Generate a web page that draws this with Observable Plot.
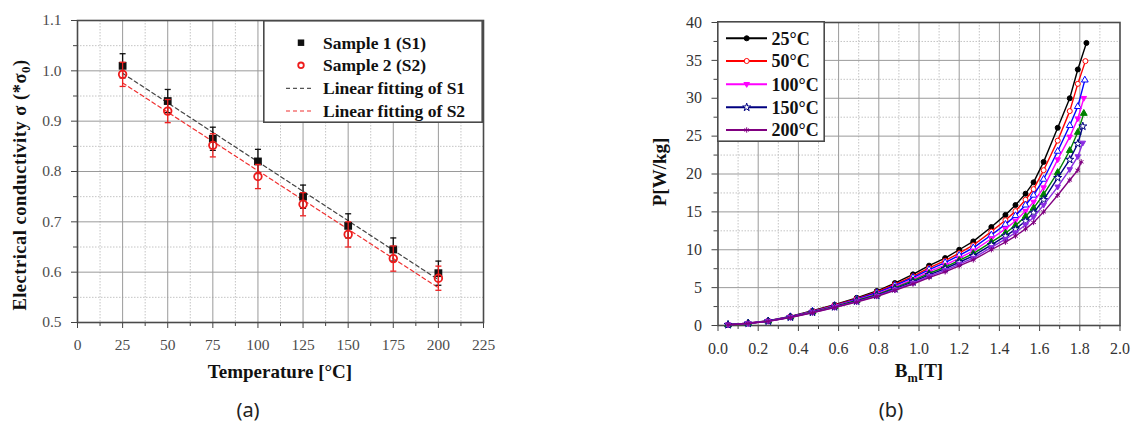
<!DOCTYPE html>
<html><head><meta charset="utf-8">
<script src="https://cdn.jsdelivr.net/npm/d3@7"></script>
<script src="https://cdn.jsdelivr.net/npm/@observablehq/plot@0.6"></script>
<style>
html,body{margin:0;padding:0;background:#fff;}
#wrap{position:relative;width:1136px;height:426px;overflow:hidden;font-family:"Liberation Serif",serif;}
.lab{position:absolute;font-family:"Liberation Serif",serif;font-weight:bold;color:#111;white-space:nowrap;transform:translate(-50%,-50%);}
.rot{transform:translate(-50%,-50%) rotate(-90deg);}
.cap{position:absolute;font-family:"Noto Sans","Open Sans",sans-serif;font-size:20px;color:#222;transform:translate(-50%,-50%);}
</style></head><body><div id="wrap"></div>
<script>
// ---------- Panel (a) data ----------
const temps   = [25, 50, 75, 100, 125, 150, 175, 200];
const sigmaS1 = [1.010, 0.940, 0.865, 0.820, 0.750, 0.692, 0.645, 0.598];
const sigmaS2 = [0.993, 0.920, 0.852, 0.790, 0.735, 0.675, 0.627, 0.588];
const errS1   = [0.024, 0.023, 0.023, 0.024, 0.023, 0.024, 0.023, 0.024];
const errS2   = [0.024, 0.023, 0.023, 0.024, 0.023, 0.025, 0.025, 0.024];
const fitTemps = [25, 200];
const fitS1    = [0.995, 0.585];
const fitS2    = [0.976, 0.569];
const tempTicks  = [0, 25, 50, 75, 100, 125, 150, 175, 200, 225];
const sigmaTicks = [0.5, 0.6, 0.7, 0.8, 0.9, 1.0, 1.1];
const legendA = ["Sample 1 (S1)", "Sample 2 (S2)", "Linear fitting of S1", "Linear fitting of S2"];

// ---------- Panel (b) data ----------
const Bm = [0.05, 0.15, 0.25, 0.36, 0.47, 0.58, 0.69, 0.79, 0.88, 0.97, 1.05, 1.13, 1.20, 1.27, 1.36, 1.43, 1.48, 1.53, 1.57, 1.62, 1.69, 1.75, 1.79, 1.83];
const BmEnd = [1.833, 1.828, 1.825, 1.820, 1.820, 1.815, 1.815, 1.807];
const P25     = [0.1, 0.30, 0.62, 1.20, 1.95, 2.75, 3.65, 4.55, 5.60, 6.75, 7.90, 8.90, 10.0, 11.1, 13.0, 14.6, 15.9, 17.4, 18.9, 21.6, 26.1, 30.0, 33.8, 37.3];
const P50     = [0.1, 0.30, 0.60, 1.18, 1.90, 2.68, 3.55, 4.42, 5.42, 6.50, 7.60, 8.55, 9.55, 10.6, 12.4, 13.9, 15.1, 16.6, 18.0, 20.5, 24.4, 28.3, 31.9, 34.9];
const Pblue   = [0.1, 0.29, 0.60, 1.16, 1.87, 2.63, 3.48, 4.32, 5.28, 6.33, 7.38, 8.30, 9.25, 10.25, 11.95, 13.35, 14.5, 15.9, 17.2, 19.3, 23.0, 26.4, 28.9, 32.4];
const P100    = [0.1, 0.29, 0.59, 1.13, 1.82, 2.57, 3.38, 4.18, 5.10, 6.10, 7.10, 7.98, 8.90, 9.85, 11.45, 12.75, 13.8, 15.1, 16.3, 18.2, 21.9, 24.9, 27.3, 30.0];
const Pgreen  = [0.1, 0.28, 0.58, 1.11, 1.78, 2.51, 3.30, 4.08, 4.96, 5.92, 6.88, 7.72, 8.60, 9.50, 11.0, 12.2, 13.2, 14.4, 15.5, 17.3, 20.2, 23.1, 25.5, 28.0];
const P150    = [0.1, 0.28, 0.57, 1.09, 1.74, 2.46, 3.22, 3.98, 4.84, 5.76, 6.68, 7.50, 8.35, 9.20, 10.65, 11.8, 12.7, 13.8, 14.9, 16.6, 19.5, 21.9, 24.0, 26.3];
const Pviolet = [0.1, 0.27, 0.56, 1.07, 1.71, 2.41, 3.15, 3.90, 4.72, 5.60, 6.50, 7.28, 8.10, 8.90, 10.3, 11.4, 12.25, 13.3, 14.3, 15.9, 18.3, 20.6, 22.3, 24.1];
const P200    = [0.1, 0.27, 0.55, 1.05, 1.68, 2.37, 3.10, 3.83, 4.63, 5.48, 6.33, 7.08, 7.88, 8.65, 10.0, 11.0, 11.8, 12.75, 13.6, 15.0, 17.2, 19.2, 20.5, 21.6];
const BTicks = [0.0, 0.2, 0.4, 0.6, 0.8, 1.0, 1.2, 1.4, 1.6, 1.8, 2.0];
const PTicks = [0, 5, 10, 15, 20, 25, 30, 35, 40];
const legendB = ["25°C", "50°C", "100°C", "150°C", "200°C"];

// ---------- helpers ----------
const wrap = document.getElementById("wrap");
function put(el, x, y){ el.style.position = "absolute"; el.style.left = x + "px"; el.style.top = y + "px"; wrap.appendChild(el); return el; }
function label(html, x, y, size, rot){ const d = document.createElement("div"); d.className = "lab" + (rot ? " rot" : ""); d.innerHTML = html; d.style.fontSize = size + "px"; put(d, x, y); return d; }
function mids(a){ const r = []; for (let i = 0; i < a.length - 1; i++) r.push((a[i] + a[i+1]) / 2); return r; }
function serifTicks(svg, size, color){
  d3.select(svg).selectAll("text")
    .style("font-family", "'Liberation Serif', serif").style("font-size", size + "px").style("fill", color);
}
const capSym = {draw(ctx, size){ const w = Math.sqrt(size) / 2; ctx.moveTo(-w, 0); ctx.lineTo(w, 0); }};
const triDown = {draw(ctx, size){ const s = Math.sqrt(size) * 0.62; ctx.moveTo(0, s * 1.1); ctx.lineTo(s, -s * 0.65); ctx.lineTo(-s, -s * 0.65); ctx.closePath(); }};

const gridMajor = {stroke: "#9a9a9a", strokeOpacity: 1, strokeWidth: 1};
const gridMinor = {stroke: "#c4c4c4", strokeOpacity: 1, strokeWidth: 1, strokeDasharray: "1.5,1.5"};

// ---------- Panel (a) ----------
const ptsA = temps.map((t, i) => ({t, s1: sigmaS1[i], s2: sigmaS2[i], e1: errS1[i], e2: errS2[i]}));
const fitA = fitTemps.map((t, i) => ({t, f1: fitS1[i], f2: fitS2[i]}));
const tempMinor = mids(tempTicks), sigmaMinor = mids(sigmaTicks);

const plotA = Plot.plot({
  width: 500, height: 360,
  marginLeft: 77, marginRight: 17, marginTop: 20, marginBottom: 38,
  x: {domain: [0, 225]},
  y: {domain: [0.5, 1.1]},
  style: {background: "transparent"},
  marks: [
    Plot.gridX(tempMinor, gridMinor),
    Plot.gridY(sigmaMinor, gridMinor),
    Plot.gridX(tempTicks.slice(1, -1), gridMajor),
    Plot.gridY(sigmaTicks.slice(1, -1), gridMajor),
    Plot.axisX(tempMinor, {tickSize: 4, tickFormat: () => "", label: null, stroke: "#444"}),
    Plot.axisY(sigmaMinor, {tickSize: 4, tickFormat: () => "", label: null, stroke: "#444"}),
    Plot.axisX(tempTicks, {tickSize: 6, tickPadding: 10, tickFormat: d3.format("d"), label: null, stroke: "#444"}),
    Plot.axisY(sigmaTicks, {tickSize: 6, tickPadding: 10, tickFormat: d3.format(".1f"), label: null, stroke: "#444"}),
    Plot.frame({stroke: "#4a4a4a", strokeWidth: 1.6}),
    Plot.line(fitA, {x: "t", y: "f1", stroke: "#444", strokeWidth: 1.2, strokeDasharray: "4,3"}),
    Plot.line(fitA, {x: "t", y: "f2", stroke: "#f03030", strokeWidth: 1.2, strokeDasharray: "4,3"}),
    Plot.ruleX(ptsA, {x: "t", y1: d => d.s1 - d.e1, y2: d => d.s1 + d.e1, stroke: "#111", strokeWidth: 1.3}),
    Plot.dot(ptsA, {x: "t", y: d => d.s1 + d.e1, symbol: capSym, r: 3.4, stroke: "#111", strokeWidth: 1.3, fill: "none"}),
    Plot.dot(ptsA, {x: "t", y: d => d.s1 - d.e1, symbol: capSym, r: 3.4, stroke: "#111", strokeWidth: 1.3, fill: "none"}),
    Plot.dot(ptsA, {x: "t", y: "s1", symbol: "square", r: 4.4, fill: "#111", stroke: "none"}),
    Plot.ruleX(ptsA, {x: "t", y1: d => d.s2 - d.e2, y2: d => d.s2 + d.e2, stroke: "#ee2020", strokeWidth: 1.3}),
    Plot.dot(ptsA, {x: "t", y: d => d.s2 + d.e2, symbol: capSym, r: 3.4, stroke: "#ee2020", strokeWidth: 1.3, fill: "none"}),
    Plot.dot(ptsA, {x: "t", y: d => d.s2 - d.e2, symbol: capSym, r: 3.4, stroke: "#ee2020", strokeWidth: 1.3, fill: "none"}),
    Plot.dot(ptsA, {x: "t", y: "s2", symbol: "circle", r: 3.8, fill: "none", stroke: "#ee1c1c", strokeWidth: 1.8})
  ]
});
serifTicks(plotA, 15.5, "#4d4d4d");
put(plotA, 0, 0);

label("Electrical conductivity σ (*σ<sub style='font-size:70%'>0</sub>)", 22, 185, 18.5, true).style.letterSpacing = "0.5px";
label("Temperature [°C]", 280, 372, 19);

// legend (a)
{
  const svg = d3.create("svg").attr("width", 220).attr("height", 103);
  svg.append("rect").attr("x", 0.8).attr("y", 0.8).attr("width", 218.4).attr("height", 101.4).attr("fill", "white").attr("stroke", "#4a4a4a").attr("stroke-width", 1.6);
  const rows = [22.7, 45.3, 68.3, 91];
  const mx = 38;
  svg.append("path").attr("d", d3.symbol(d3.symbolSquare, 42)()).attr("transform", `translate(${mx},${rows[0]})`).attr("fill", "#111");
  svg.append("circle").attr("cx", mx).attr("cy", rows[1]).attr("r", 2.8).attr("fill", "none").attr("stroke", "#ee1c1c").attr("stroke-width", 1.8);
  svg.append("line").attr("x1", 23).attr("x2", 50).attr("y1", rows[2]).attr("y2", rows[2]).attr("stroke", "#555").attr("stroke-width", 1.2).attr("stroke-dasharray", "4,3");
  svg.append("line").attr("x1", 23).attr("x2", 50).attr("y1", rows[3]).attr("y2", rows[3]).attr("stroke", "#f03030").attr("stroke-width", 1.2).attr("stroke-dasharray", "4,3");
  legendA.forEach((t, i) => svg.append("text").attr("x", 60).attr("y", rows[i]).attr("dy", "0.35em")
    .attr("font-family", "Liberation Serif, serif").attr("font-weight", "bold").attr("font-size", 17.5).attr("fill", "#111").text(t));
  put(svg.node(), 263, 19.5);
}

// ---------- Panel (b) ----------
const seriesP = [P25, P50, Pblue, P100, Pgreen, P150, Pviolet, P200];
const styleB = [
  {color: "#000000", symbol: d3.symbolCircle, fill: true},
  {color: "#ff0000", symbol: d3.symbolCircle, fill: false},
  {color: "#0000ff", symbol: d3.symbolTriangle, fill: false},
  {color: "#ff00ff", symbol: triDown, fill: true},
  {color: "#008000", symbol: d3.symbolTriangle, fill: true},
  {color: "#000080", symbol: d3.symbolStar, fill: false},
  {color: "#8a2be2", symbol: triDown, fill: true},
  {color: "#800080", symbol: d3.symbolAsterisk, fill: false}
];
const BMinor = mids(BTicks), PMinor = mids(PTicks);
const curveMarks = [];
seriesP.forEach((P, k) => {
  const rows = Bm.map((b, j) => ({B: j === Bm.length - 1 ? BmEnd[k] : b, P: P[j]}));
  const st = styleB[k];
  curveMarks.push(Plot.line(rows, {x: "B", y: "P", stroke: st.color, strokeWidth: 1.4}));
  curveMarks.push(Plot.dot(rows, {x: "B", y: "P", symbol: st.symbol, r: 2.5, stroke: st.color, strokeWidth: 1, fill: st.fill ? st.color : "white"}));
});

const plotB = Plot.plot({
  width: 536, height: 360,
  marginLeft: 117.5, marginRight: 16.5, marginTop: 22, marginBottom: 35,
  x: {domain: [0, 2]},
  y: {domain: [0, 40]},
  style: {background: "transparent"},
  marks: [
    Plot.gridX(BMinor, gridMinor),
    Plot.gridY(PMinor, gridMinor),
    Plot.gridX(BTicks.slice(1, -1), gridMajor),
    Plot.gridY(PTicks.slice(1, -1), gridMajor),
    Plot.axisX(BMinor, {tickSize: 4, tickFormat: () => "", label: null, stroke: "#444"}),
    Plot.axisY(PMinor, {tickSize: 4, tickFormat: () => "", label: null, stroke: "#444"}),
    Plot.axisX(BTicks, {tickSize: 6, tickPadding: 11, tickFormat: d3.format(".1f"), label: null, stroke: "#444"}),
    Plot.axisY(PTicks, {tickSize: 6, tickPadding: 10, tickFormat: d3.format("d"), label: null, stroke: "#444"}),
    Plot.frame({stroke: "#4a4a4a", strokeWidth: 1.6}),
    ...curveMarks
  ]
});
serifTicks(plotB, 16, "#333");
put(plotB, 600, 0);

label("P[W/kg]", 660, 172, 19, true);
label("B<sub style='font-size:65%'>m</sub>[T]", 919, 373, 19);

// legend (b)
{
  const svg = d3.create("svg").attr("width", 108).attr("height", 121);
  svg.append("rect").attr("x", 0.8).attr("y", 0.8).attr("width", 106.4).attr("height", 119.4).attr("fill", "white").attr("stroke", "#4a4a4a").attr("stroke-width", 1.6);
  const rows = [17.3, 40, 63.3, 86.3, 109];
  const leg = [0, 1, 3, 5, 7];
  legendB.forEach((t, i) => {
    const st = styleB[leg[i]];
    svg.append("line").attr("x1", 9).attr("x2", 50).attr("y1", rows[i]).attr("y2", rows[i]).attr("stroke", st.color).attr("stroke-width", 2);
    svg.append("path").attr("d", d3.symbol(st.symbol, 20)()).attr("transform", `translate(29.7,${rows[i]})`)
      .attr("fill", st.fill ? st.color : "white").attr("stroke", st.color).attr("stroke-width", 1);
    svg.append("text").attr("x", 54.5).attr("y", rows[i]).attr("dy", "0.35em")
      .attr("font-family", "Liberation Serif, serif").attr("font-weight", "bold").attr("font-size", 18).attr("fill", "#111").text(t);
  });
  put(svg.node(), 717, 21);
}

// panel captions
{
  const a = document.createElement("div"); a.className = "cap"; a.textContent = "(a)"; put(a, 248, 409);
  const b = document.createElement("div"); b.className = "cap"; b.textContent = "(b)"; put(b, 891, 409);
}
</script>
</body></html>
